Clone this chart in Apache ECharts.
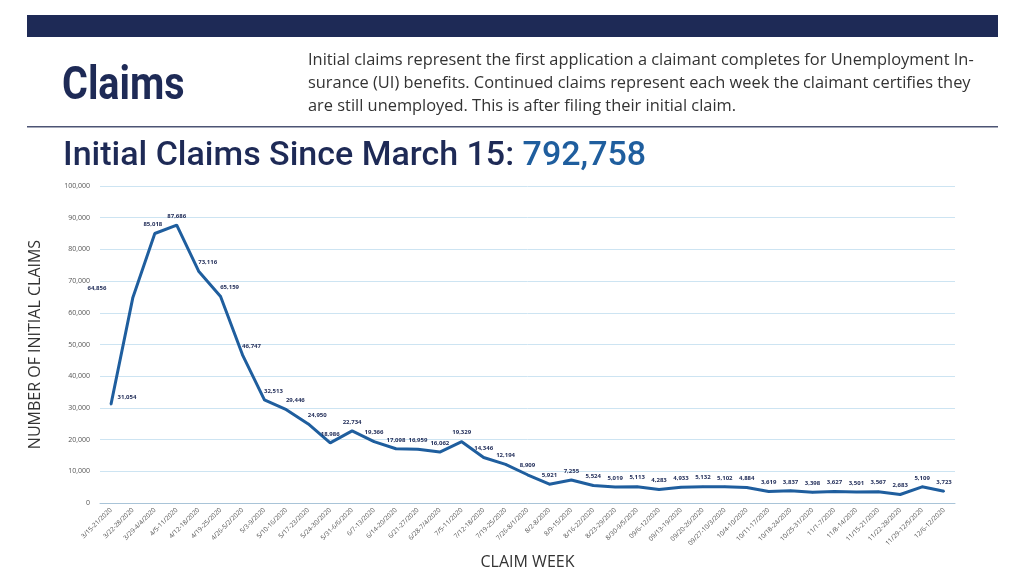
<!DOCTYPE html>
<html><head><meta charset="utf-8">
<script src="https://cdn.jsdelivr.net/npm/echarts@6/dist/echarts.min.js"></script>
<style>html,body{margin:0;padding:0;background:#fff;}#c{width:1024px;height:576px;}</style>
</head><body><div id="c"></div>
<script>
const categories = ["3/15-21/2020","3/22-28/2020","3/29-4/4/2020","4/5-11/2020","4/12-18/2020","4/19-25/2020","4/26-5/2/2020","5/3-9/2020","5/10-16/2020","5/17-23/2020","5/24-30/2020","5/31-6/6/2020","6/7-13/2020","6/14-20/2020","6/21-27/2020","6/28-7/4/2020","7/5-11/2020","7/12-18/2020","7/19-25/2020","7/26-8/1/2020","8/2-8/2020","8/9-15/2020","8/16-22/2020","8/23-29/2020","8/30-9/5/2020","09/6-12/2020","09/13-19/2020","09/20-26/2020","09/27-10/3/2020","10/4-10/2020","10/11-17/2020","10/18-24/2020","10/25-31/2020","11/1-7/2020","11/8-14/2020","11/15-21/2020","11/22-28/2020","11/29-12/5/2020","12/6-12/2020"];
const initialClaims = [31054,64856,85018,87686,73116,65159,46747,32513,29446,24950,18986,22734,19366,17098,16959,16062,19329,14346,12194,8909,5921,7255,5524,5019,5113,4283,4933,5132,5102,4884,3619,3837,3398,3627,3501,3567,2683,5109,3723];
const yTicks = [0,10000,20000,30000,40000,50000,60000,70000,80000,90000,100000];
const titleText = "Initial Claims Since March 15: ";
const totalText = "792,758";
const descLines = ["Initial claims represent the first application a claimant completes for Unemployment In-","surance (UI) benefits. Continued claims represent each week the claimant certifies they","are still unemployed. This is after filing their initial claim."];

const fmt = v => v.toLocaleString('en-US');
function labelShift(i){
  if (i===0) return {dx:16,dy:2};
  if (i===1) return {dx:-36,dy:0};
  if (i===2) return {dx:-2,dy:0};
  if (i>=4 && i<=9) return {dx:9,dy:0};
  return {dx:0,dy:0};
}

const chart = echarts.init(document.getElementById('c'));
chart.setOption({
  backgroundColor:'#fff',
  animation:false,
  graphic:[
    {type:'rect',shape:{x:27,y:15,width:971,height:22},style:{fill:'#1e2a56'}},
    {type:'rect',shape:{x:27,y:126,width:971,height:1.5},style:{fill:'#4d5474'}},
    {type:'text',x:62,y:64,scaleX:0.86,style:{text:'Claims',font:'bold 46px Roboto,sans-serif',fill:'#1e2a56'}},
    ...descLines.map((t,i)=>({type:'text',left:308,top:52+i*23,style:{text:t,font:'16.4px "Open Sans",sans-serif',fill:'#333'}})),
    {type:'text',x:63,y:139,scaleX:1.0,style:{rich:{a:{font:'500 34px Roboto,sans-serif',fill:'#1e2a56'},b:{font:'500 34px Roboto,sans-serif',fill:'#1f5e9e'}},text:'{a|'+titleText+'}{b|'+totalText+'}'}}
  ],
  grid:{left:100,right:69,top:186,bottom:73},
  xAxis:{
    type:'category',data:categories,boundaryGap:true,
    name:'CLAIM WEEK',nameLocation:'middle',nameGap:50,
    nameTextStyle:{fontSize:16,color:'#333',fontFamily:'Open Sans'},
    axisLine:{lineStyle:{color:'#a9c4d8'}},
    axisTick:{show:false},
    axisLabel:{rotate:45,fontSize:6.5,color:'#555',interval:0,margin:6,fontFamily:'Open Sans'}
  },
  yAxis:{
    type:'value',min:0,max:100000,interval:10000,
    name:'NUMBER OF INITIAL CLAIMS',nameLocation:'middle',nameGap:57,
    nameTextStyle:{fontSize:16,color:'#333',fontFamily:'Open Sans'},
    axisLine:{show:false},axisTick:{show:false},
    splitLine:{lineStyle:{color:'#cde4f2',width:1}},
    axisLabel:{fontSize:7,color:'#555',margin:10,formatter:v=>fmt(v),fontFamily:'Open Sans'}
  },
  series:[{
    type:'line',data:initialClaims,symbol:'circle',symbolSize:2,showSymbol:true,
    itemStyle:{color:'#1f5e9e'},
    lineStyle:{color:'#1f5e9e',width:3},
    labelLayout:p=>Object.assign({hideOverlap:false},labelShift(p.dataIndex)),
    label:{show:true,position:'top',distance:5,fontSize:6,fontWeight:'bold',color:'#1e2a56',formatter:p=>fmt(p.value),fontFamily:'Open Sans'}
  }]
});
</script></body></html>
